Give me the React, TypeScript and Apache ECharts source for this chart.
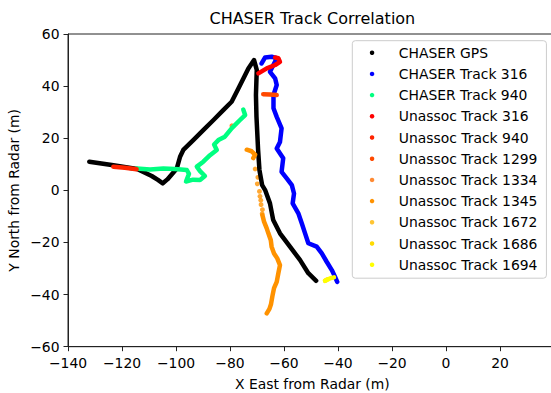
import React, { useEffect, useRef } from 'react';
import * as echarts from 'echarts';

const FONT = "'DejaVu Sans', 'Noto Sans', sans-serif";

// Axis settings (tick labels)
const xMin = -140;
const xMax = 39.5;
const xInterval = 20;
const yMin = -60;
const yMax = 60;
const yInterval = 20;

const titleText = 'CHASER Track Correlation';
const xAxisName = 'X East from Radar (m)';
const yAxisName = 'Y North from Radar (m)';

const seriesNames = [
  'CHASER GPS',
  'CHASER Track 316',
  'CHASER Track 940',
  'Unassoc Track 316',
  'Unassoc Track 940',
  'Unassoc Track 1299',
  'Unassoc Track 1334',
  'Unassoc Track 1345',
  'Unassoc Track 1672',
  'Unassoc Track 1686',
  'Unassoc Track 1694',
];

const seriesColors = [
  '#000000',
  '#0000ff',
  '#00ff80',
  '#ff0000',
  '#ff2400',
  '#ff4900',
  '#ff6d00',
  '#ff9200',
  '#ffb600',
  '#ffdb00',
  '#ffff00',
];

// [x, y] in metres
const chaserGps = [
  [-132.1, 11.0], [-123.8, 9.7], [-114.4, 8.2], [-109.0, 5.5], [-106.7, 4.0],
  [-104.9, 2.7], [-103.2, 4.2], [-99.7, 8.4], [-98.5, 12.9], [-97.3, 15.5],
  [-93.6, 19.3], [-89.9, 23.1], [-86.2, 26.9], [-82.5, 30.8], [-79.4, 34.0],
  [-76.9, 39.1], [-74.4, 44.3], [-73.2, 46.8], [-71.1, 50.0], [-70.1, 46.2],
  [-70.4, 36.6], [-70.2, 28.2], [-69.6, 15.5], [-69.1, 7.8], [-68.1, 2.0],
  [-67.0, 0.1], [-65.2, -5.0], [-64.0, -11.4], [-61.5, -16.5], [-57.8, -21.6],
  [-54.1, -26.7], [-51.0, -31.8], [-48.1, -34.7],
];

const chaserTrack316 = [
  [-68.3, 48.7], [-67.0, 51.0], [-64.6, 51.3], [-62.7, 50.7], [-65.2, 45.5],
  [-63.3, 43.0], [-62.7, 40.4], [-63.9, 36.6], [-63.9, 31.5], [-62.7, 28.2],
  [-60.9, 23.8], [-61.5, 18.6], [-62.7, 16.1], [-60.3, 12.3], [-60.9, 7.1],
  [-59.0, 4.6], [-57.1, 2.0], [-56.3, -1.2], [-56.8, -5.0], [-54.7, -8.8],
  [-53.4, -12.7], [-52.2, -16.5], [-51.0, -20.3], [-47.9, -21.6], [-46.0, -24.2],
  [-44.2, -27.4], [-42.3, -30.6], [-41.1, -33.2], [-40.3, -35.1],
];

const chaserTrack940 = [
  [-114.6, 8.4], [-109.6, 8.0], [-104.7, 8.4], [-100.4, 8.2], [-96.0, 7.8],
  [-95.2, 6.3], [-96.3, 3.4], [-93.7, 4.1], [-91.1, 4.0], [-89.3, 5.5],
  [-91.1, 7.4], [-92.3, 9.1], [-89.9, 11.0], [-87.4, 13.5], [-84.9, 15.5],
  [-85.9, 17.6], [-84.3, 19.3], [-81.9, 20.6], [-79.4, 23.8], [-76.3, 27.0],
  [-74.4, 28.9], [-75.1, 31.0],
];

const unassoc316 = [
  [-69.5, 44.9], [-66.4, 46.8], [-63.3, 48.1], [-61.5, 49.3], [-62.1, 50.7], [-63.3, 51.0],
];

const unassoc940 = [
  [-123.2, 9.1], [-118.9, 8.7], [-114.6, 8.1],
];

const unassoc1299 = [
  [-67.7, 36.9], [-65.2, 36.8], [-62.7, 36.6],
];

const unassoc1334 = [
  [-79.3, 24.8],
];

const unassoc1345Hook = [
  [-73.8, 15.6], [-72.0, 15.0], [-70.7, 13.7], [-71.4, 12.4],
];

const unassoc1345Dots = [
  [-70.7, 8.2], [-69.7, 5.0], [-69.9, 2.5], [-69.1, -0.4], [-68.9, -2.3],
  [-68.6, -3.8], [-68.5, -5.5], [-68.0, -7.4], [-68.1, -9.0],
];

const unassoc1345Line = [
  [-68.0, -9.5], [-67.4, -12.0], [-66.4, -14.6], [-65.8, -16.5], [-64.9, -19.1],
  [-64.6, -21.6], [-63.7, -24.2], [-62.5, -26.1], [-61.5, -28.7], [-62.1, -31.8],
  [-62.7, -35.1], [-63.7, -37.5], [-64.3, -40.6], [-64.8, -43.6], [-65.4, -45.5],
  [-66.4, -47.2],
];

const unassoc1672: number[][] = [];

const unassoc1686 = [
  [-44.8, -34.7], [-44.0, -34.2],
];

const unassoc1694 = [
  [-44.8, -34.7], [-43.0, -33.8], [-41.5, -33.4],
];

const LINE_W = 4.5;
const DOT = 4.8;

function lineSeries(idx: number, data: number[][]) {
  const color = seriesColors[idx];
  return {
    type: 'line',
    name: seriesNames[idx],
    data,
    showSymbol: false,
    symbol: 'circle',
    symbolSize: DOT,
    silent: true,
    lineStyle: { color, width: LINE_W, cap: 'round', join: 'round' },
    itemStyle: { color },
  };
}

function dotSeries(idx: number, data: number[][]) {
  const color = seriesColors[idx];
  return {
    type: 'scatter',
    name: seriesNames[idx],
    data,
    symbol: 'circle',
    symbolSize: DOT,
    silent: true,
    itemStyle: { color },
  };
}

const minus = (v: number) => (v < 0 ? '\u2212' + Math.abs(v) : String(v));

export default function App() {
  const ref = useRef<HTMLDivElement>(null);

  useEffect(() => {
    if (!ref.current) return;
    const chart = echarts.init(ref.current, undefined, { renderer: 'svg' });

    const W = 560;
    const H = 393;
    const gridLeft = 68;
    const gridTop = 34;
    const gridBottom = H - 346.7;
    const plotRight = 552.7;
    const axesCenterX = (gridLeft + plotRight) / 2 + 2;

    const option: any = {
      animation: false,
      backgroundColor: '#ffffff',
      grid: {
        left: gridLeft,
        top: gridTop,
        right: W - plotRight,
        bottom: gridBottom,
        show: true,
        borderColor: '#222222',
        borderWidth: 1,
        backgroundColor: 'transparent',
      },
      xAxis: {
        type: 'value',
        min: xMin,
        max: xMax,
        interval: xInterval,
        splitLine: { show: false },
        axisLine: { show: true, onZero: false, lineStyle: { color: '#222222', width: 1 } },
        axisTick: { show: true, inside: false, length: 4.5, lineStyle: { color: '#222222', width: 1 } },
        axisLabel: {
          show: true,
          margin: 9,
          color: '#000000',
          fontFamily: FONT,
          fontSize: 13.9,
          showMaxLabel: false,
          formatter: (v: number) => (v > 30 ? '' : minus(v)),
        },
      },
      yAxis: {
        type: 'value',
        min: yMin,
        max: yMax,
        interval: yInterval,
        splitLine: { show: false },
        axisLine: { show: true, onZero: false, lineStyle: { color: '#222222', width: 1 } },
        axisTick: { show: true, inside: false, length: 4.5, lineStyle: { color: '#222222', width: 1 } },
        axisLabel: {
          show: true,
          margin: 8.5,
          color: '#000000',
          fontFamily: FONT,
          fontSize: 13.9,
          formatter: (v: number) => minus(v),
        },
      },
      legend: {
        orient: 'vertical',
        left: 352.3,
        top: 40.7,
        icon: 'circle',
        itemWidth: 4.5,
        itemHeight: 4.5,
        itemGap: 6.2,
        padding: [4.5, 9, 6, 17.5],
        backgroundColor: 'rgba(255,255,255,0.8)',
        borderColor: '#cccccc',
        borderWidth: 1,
        borderRadius: 3,
        selectedMode: false,
        textStyle: {
          fontFamily: FONT,
          fontSize: 13.9,
          color: '#000000',
          lineHeight: 15,
          padding: [0, 0, 0, 19.5],
        },
        data: seriesNames.map((n) => ({ name: n, icon: 'circle' })),
      },
      graphic: [
        {
          type: 'text',
          x: axesCenterX,
          y: 18.5,
          silent: true,
          style: {
            text: titleText,
            fill: '#000000',
            font: `16px ${FONT}`,
            textAlign: 'center',
            textVerticalAlign: 'middle',
          },
        },
        {
          type: 'text',
          x: axesCenterX,
          y: 384,
          silent: true,
          style: {
            text: xAxisName,
            fill: '#000000',
            font: `13.9px ${FONT}`,
            textAlign: 'center',
            textVerticalAlign: 'middle',
          },
        },
        {
          type: 'text',
          x: 14,
          y: (gridTop + 346.7) / 2,
          rotation: Math.PI / 2,
          silent: true,
          style: {
            text: yAxisName,
            fill: '#000000',
            font: `13.9px ${FONT}`,
            textAlign: 'center',
            textVerticalAlign: 'middle',
          },
        },
      ],
      series: [
        lineSeries(0, chaserGps),
        lineSeries(1, chaserTrack316),
        lineSeries(2, chaserTrack940),
        lineSeries(3, unassoc316),
        lineSeries(4, unassoc940),
        lineSeries(5, unassoc1299),
        dotSeries(6, unassoc1334),
        lineSeries(7, unassoc1345Hook),
        dotSeries(7, unassoc1345Dots),
        lineSeries(7, unassoc1345Line),
        dotSeries(8, unassoc1672),
        lineSeries(9, unassoc1686),
        lineSeries(10, unassoc1694),
      ],
    };

    chart.setOption(option);
    return () => chart.dispose();
  }, []);

  return (
    <div
      style={{
        position: 'fixed',
        left: 0,
        top: 0,
        width: 551,
        height: 393,
        overflow: 'hidden',
        background: '#ffffff',
      }}
    >
      <div ref={ref} style={{ width: 560, height: 393 }} />
    </div>
  );
}
